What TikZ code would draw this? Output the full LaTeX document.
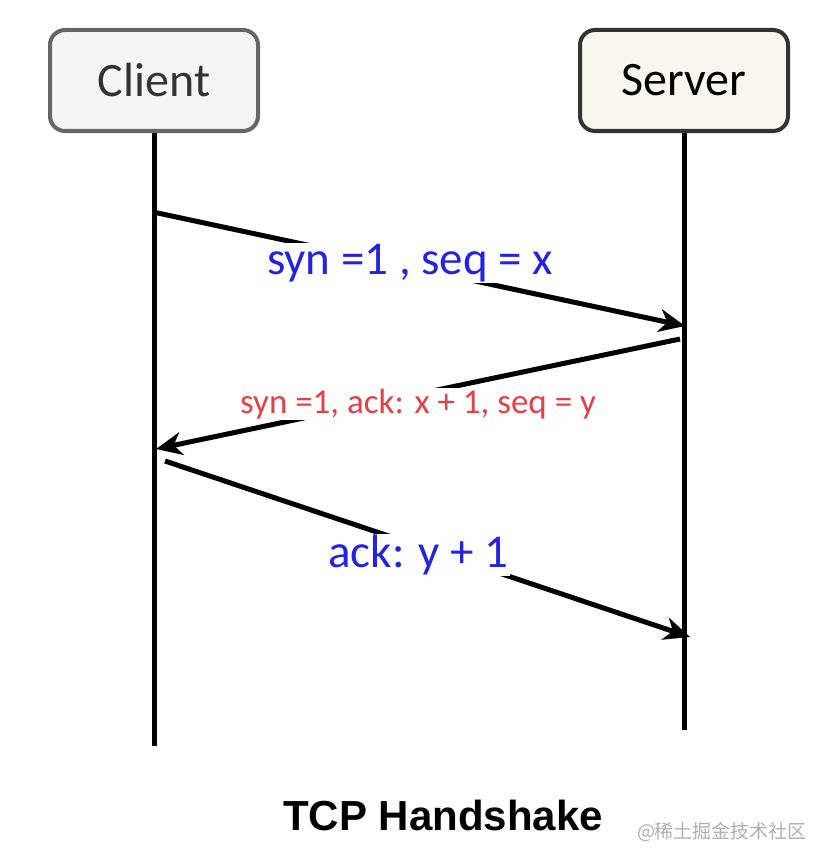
\documentclass[tikz,border=0pt]{standalone}
\usepackage{fontspec}
\setmainfont{Carlito}
\newfontfamily\titlefont{Liberation Sans}
\newfontfamily\cjkfont{Noto Sans CJK SC}
\usetikzlibrary{arrows.meta, positioning}

\definecolor{clientline}{RGB}{102,102,102}
\definecolor{clientfill}{RGB}{245,245,245}
\definecolor{serverline}{RGB}{51,51,51}
\definecolor{serverfill}{RGB}{249,247,237}
\definecolor{msgblue}{RGB}{35,35,225}
\definecolor{msgred}{RGB}{228,64,72}
\definecolor{markgray}{RGB}{175,175,175}

\begin{document}
\begin{tikzpicture}[
        x=1pt, y=-1pt,
        actor/.style={
            rectangle,
            rounded corners=15pt,
            line width=4pt,
            minimum width=208pt,
            minimum height=101pt,
            font=\fontsize{48}{56}\selectfont
        },
        lifeline/.style={
            line width=5pt
        },
        arrow/.style={
            line width=5pt,
            -{Stealth[length=26pt, width=23pt, inset=8pt]}
        },
        msg/.style={
            fill=white,
            inner sep=1pt,
            font=\fontsize{47}{54}\selectfont,
            text=msgblue
        }
        ]

        \useasboundingbox (0,0) rectangle (821,864);

        \node (client) [actor, draw=clientline, fill=clientfill, text=black!80] at (154,80.5) {Client};
        \node (server) [actor, draw=serverline, fill=serverfill, right=318pt of client] {Server};

        \coordinate (cend) at (client.south |- 0,746);
        \coordinate (send) at (server.south |- 0,730);
        \draw [lifeline] (client.south) -- (cend);
        \draw [lifeline] (server.south) -- (send);

        \coordinate (c1) at (153,212);
        \coordinate (s1) at (685,326);
        \coordinate (s2) at (680,339);
        \coordinate (c2) at (156,449);
        \coordinate (c3) at (165,461);
        \coordinate (s3) at (690,637);

        \draw [arrow] (c1) -- node (syn) [msg, xshift=-9pt, yshift=6pt] {syn =1 , seq = x} (s1);
        \draw [arrow] (s2) -- node (synack) [msg, text=msgred, font=\fontsize{35}{40}\selectfont, yshift=-10pt] {syn =1, ack: x + 1, seq = y} (c2);
        \draw [arrow] (c3) -- node (ack) [msg, xshift=-9pt, yshift=-6pt] {ack: y + 1} (s3);

        \node (title) [font=\titlefont\bfseries\fontsize{42}{50}\selectfont] at (443,815) {TCP Handshake};
        \node (mark) [font=\cjkfont\fontsize{19}{22}\selectfont, text=markgray] at (722,832) {@稀土掘金技术社区};

    \end{tikzpicture}
\end{document}
